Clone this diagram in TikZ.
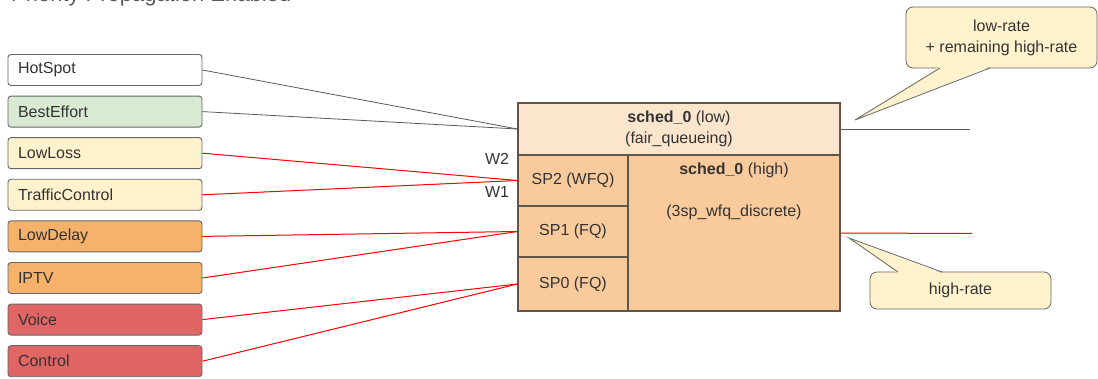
\documentclass[tikz,border=0pt]{standalone}
\usepackage{fontspec}
\setmainfont{Liberation Sans}
\usetikzlibrary{positioning}

\definecolor{clsline}{HTML}{666666}
\definecolor{hotfill}{HTML}{FFFFFF}
\definecolor{bestfill}{HTML}{D9EAD3}
\definecolor{lossfill}{HTML}{FFF2CC}
\definecolor{delayfill}{HTML}{F6B26B}
\definecolor{voicefill}{HTML}{E06666}
\definecolor{lowfill}{HTML}{FCE5CD}
\definecolor{highfill}{HTML}{F9CB9C}
\definecolor{schedline}{HTML}{5F5548}
\definecolor{wire}{HTML}{595959}
\definecolor{redwire}{HTML}{FF0000}
\definecolor{txt}{HTML}{333333}

\tikzset{
    txtfont/.style={font=\fontsize{16}{21}\selectfont, text=txt},
    cls/.style={draw=clsline, rounded corners=3pt, line width=0.9pt,
        text width=174pt, inner xsep=10pt, inner ysep=0pt,
        minimum height=31pt, align=left, txtfont},
    sched/.style={draw=schedline, line width=1.2pt, inner sep=0pt,
        align=center, txtfont},
    call/.style={draw=clsline, fill=lossfill, line width=0.8pt,
        rounded corners=7pt, inner sep=0pt, align=center, txtfont},
    lowline/.style={draw=wire, line width=0.8pt},
    highline/.style={draw=redwire, line width=1pt},
    node distance=9.7pt
}

\begin{document}
\begin{tikzpicture}[x=1pt, y=-1pt]
    \useasboundingbox (0,0) rectangle (1098,379);

    % Title, cut off at the top
    \node[anchor=base west, inner sep=0pt, font=\fontsize{22}{26}\selectfont, text=black!65]
        (title) at (11,1.5) {Priority Propagation Enabled};

    % Traffic classes
    \node[cls, fill=hotfill] (hotspot) at (105,70) {HotSpot};
    \node[cls, fill=bestfill, below=of hotspot] (besteffort) {BestEffort};
    \node[cls, fill=lossfill, below=of besteffort] (lowloss) {LowLoss};
    \node[cls, fill=lossfill, below=of lowloss] (trafficcontrol) {TrafficControl};
    \node[cls, fill=delayfill, below=of trafficcontrol] (lowdelay) {LowDelay};
    \node[cls, fill=delayfill, below=of lowdelay] (iptv) {IPTV};
    \node[cls, fill=voicefill, below=of iptv] (voice) {Voice};
    \node[cls, fill=voicefill, below=of voice] (control) {Control};

    % Scheduler
    \node[sched, fill=lowfill, minimum width=322pt, minimum height=52pt]
        (low) at (679,129) {\textbf{sched\_0} (low)\\(fair\_queueing)};
    \node[sched, fill=highfill, minimum width=212pt, minimum height=156pt]
        (high) at (734,233) {};
    \node[sched, fill=highfill, minimum width=110pt, minimum height=51pt]
        (sp2) at (573,180.5) {SP2 (WFQ)};
    \node[sched, fill=highfill, minimum width=110pt, minimum height=51pt]
        (sp1) at (573,231.5) {SP1 (FQ)};
    \node[sched, fill=highfill, minimum width=110pt, minimum height=54pt]
        (sp0) at (573,284) {SP0 (FQ)};
    \node[anchor=north, inner sep=0pt, align=center, txtfont]
        (hightext) at (734,163) {\textbf{sched\_0} (high)\\[21pt](3sp\_wfq\_discrete)};

    % Weights
    \node[txtfont, inner sep=0pt] (w2) at (497,159) {W2};
    \node[txtfont, inner sep=0pt] (w1) at (497,192) {W1};

    % Class to scheduler connections
    \draw[lowline] (hotspot.east) -- (low.west);
    \draw[lowline] (besteffort.east) -- (low.west);
    \draw[highline] (lowloss.east) -- (sp2.west);
    \draw[highline] (trafficcontrol.east) -- (sp2.west);
    \draw[highline] (lowdelay.east) -- (sp1.west);
    \draw[highline] (iptv.east) -- (sp1.west);
    \draw[highline] (voice.east) -- (sp0.west);
    \draw[highline] (control.east) -- (sp0.west);

    % Outputs
    \coordinate (outlow) at (970,129);
    \coordinate (outhigh) at (972,233.5);
    \draw[lowline] (low.east) -- (outlow);
    \draw[highline] (high.east) -- (outhigh);

    % Callout for the low-rate output
    \node[call, minimum width=191pt, minimum height=61pt] (lowcall) at (1001.5,37.5)
        {low-rate\\+ remaining high-rate};
    \coordinate (lowtip) at (855,120);
    \fill[lossfill] (940,66.5) -- (lowtip) -- (990,66.5) -- cycle;
    \draw[clsline, line width=0.8pt, line join=miter] (940,68) -- (lowtip) -- (990,68);

    % Callout for the high-rate output
    \node[call, minimum width=181pt, minimum height=37pt] (highcall) at (960.5,290.5)
        {high-rate};
    \coordinate (hightip) at (849,238);
    \fill[lossfill] (898,273.5) -- (hightip) -- (942,273.5) -- cycle;
    \draw[clsline, line width=0.8pt, line join=miter] (898,272) -- (hightip) -- (942,272);
\end{tikzpicture}
\end{document}
